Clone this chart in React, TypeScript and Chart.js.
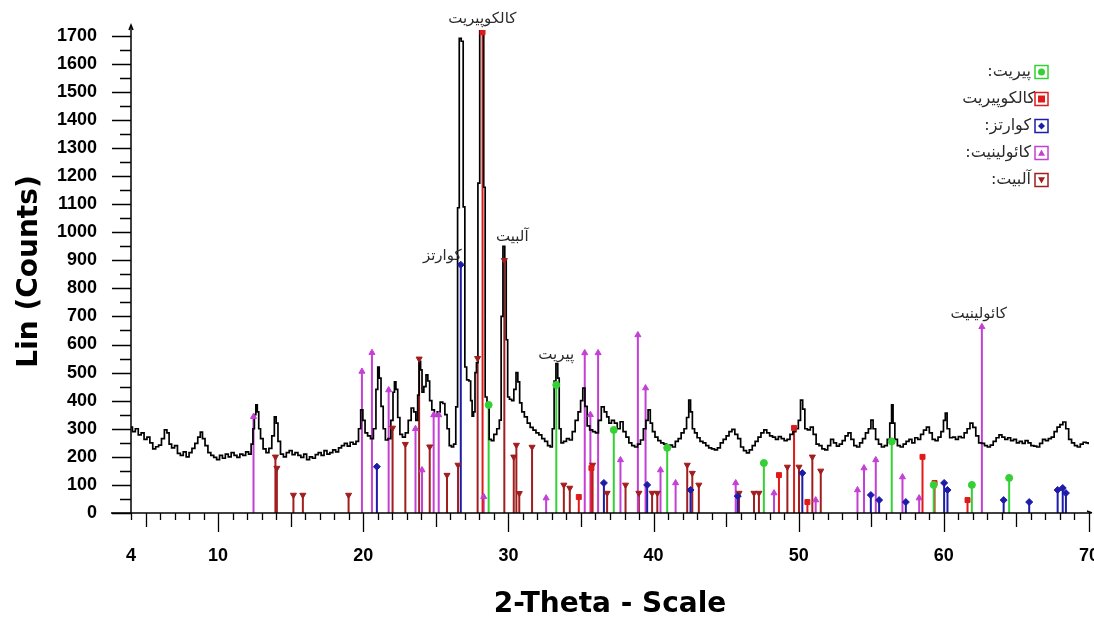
import React, { useEffect, useRef } from "react";
import { Chart, registerables } from "chart.js";

Chart.register(...registerables);

// ---------- data ----------
const xTickValues = [4, 10, 20, 30, 40, 50, 60, 70];
const yTickValues = [0, 100, 200, 300, 400, 500, 600, 700, 800, 900, 1000, 1100, 1200, 1300, 1400, 1500, 1600, 1700];

// measured diffraction pattern: [2-theta, counts]
const trace: [number, number][] = [
  [4.0, 306], [4.2, 290], [4.4, 300], [4.6, 278], [4.8, 285], [5.0, 262], [5.2, 270], [5.4, 250], [5.6, 228], [5.8, 236],
  [6.0, 242], [6.2, 265], [6.4, 296], [6.55, 285], [6.7, 245], [6.9, 232], [7.1, 240], [7.3, 212], [7.5, 205], [7.7, 218],
  [7.9, 200], [8.1, 215], [8.3, 230], [8.5, 248], [8.7, 270], [8.85, 288], [9.0, 265], [9.2, 240], [9.4, 215], [9.6, 205],
  [9.8, 198], [10.0, 190], [10.2, 205], [10.4, 195], [10.6, 210], [10.8, 200], [11.0, 215], [11.2, 205], [11.4, 198], [11.6, 210],
  [11.8, 205], [12.0, 218], [12.2, 210], [12.35, 245], [12.45, 300], [12.55, 350], [12.65, 385], [12.75, 360], [12.85, 300], [13.0, 265],
  [13.2, 228], [13.4, 215], [13.6, 230], [13.8, 275], [13.95, 342], [14.05, 320], [14.2, 255], [14.4, 210], [14.6, 200], [14.8, 215],
  [15.0, 222], [15.2, 208], [15.4, 215], [15.6, 205], [15.8, 198], [16.0, 210], [16.2, 190], [16.4, 200], [16.6, 195], [16.8, 208],
  [17.0, 215], [17.2, 205], [17.4, 222], [17.6, 210], [17.8, 215], [18.0, 225], [18.2, 218], [18.4, 232], [18.6, 240], [18.8, 248],
  [19.0, 238], [19.2, 252], [19.4, 245], [19.6, 255], [19.75, 300], [19.9, 367], [20.05, 330], [20.2, 285], [20.4, 275], [20.6, 265],
  [20.8, 300], [20.95, 440], [21.05, 520], [21.15, 480], [21.3, 380], [21.45, 300], [21.6, 260], [21.8, 265], [22.0, 330], [22.1, 430],
  [22.2, 467], [22.3, 440], [22.45, 340], [22.6, 280], [22.8, 270], [23.0, 285], [23.2, 330], [23.4, 374], [23.55, 360], [23.7, 330],
  [23.8, 420], [23.9, 540], [24.0, 510], [24.1, 430], [24.25, 450], [24.4, 492], [24.5, 470], [24.65, 400], [24.8, 367], [25.0, 345],
  [25.2, 360], [25.4, 395], [25.55, 390], [25.7, 350], [25.85, 300], [26.0, 240], [26.15, 235], [26.3, 245], [26.45, 378], [26.55, 1087],
  [26.68, 1690], [26.82, 1680], [26.95, 1090], [27.05, 520], [27.2, 474], [27.35, 470], [27.45, 400], [27.55, 345], [27.65, 360], [27.75, 500],
  [27.85, 535], [27.95, 1175], [28.1, 1718], [28.25, 1715], [28.35, 1160], [28.45, 413], [28.6, 392], [28.75, 262], [28.9, 258], [29.1, 280],
  [29.3, 300], [29.45, 331], [29.55, 700], [29.7, 950], [29.8, 900], [29.9, 617], [30.0, 413], [30.15, 405], [30.3, 400], [30.45, 440],
  [30.6, 500], [30.7, 467], [30.85, 392], [31.0, 360], [31.2, 342], [31.4, 320], [31.6, 305], [31.8, 295], [32.0, 285], [32.2, 278],
  [32.4, 265], [32.6, 255], [32.8, 240], [32.95, 235], [33.1, 300], [33.2, 470], [33.35, 532], [33.45, 480], [33.55, 300], [33.7, 250],
  [33.9, 255], [34.1, 265], [34.3, 260], [34.5, 290], [34.7, 330], [34.9, 360], [35.05, 400], [35.2, 445], [35.35, 380], [35.5, 310],
  [35.7, 296], [35.9, 290], [36.1, 285], [36.3, 330], [36.5, 378], [36.7, 360], [36.85, 342], [37.0, 320], [37.2, 330], [37.4, 320],
  [37.6, 300], [37.8, 325], [38.0, 290], [38.2, 270], [38.4, 250], [38.6, 240], [38.8, 235], [39.0, 245], [39.2, 260], [39.4, 300],
  [39.55, 330], [39.7, 367], [39.85, 320], [40.0, 290], [40.2, 270], [40.4, 258], [40.6, 250], [40.8, 245], [41.0, 238], [41.2, 242],
  [41.4, 235], [41.6, 255], [41.8, 265], [42.0, 285], [42.2, 300], [42.35, 340], [42.5, 402], [42.6, 360], [42.75, 300], [42.9, 285],
  [43.1, 268], [43.3, 255], [43.5, 250], [43.7, 240], [43.9, 232], [44.1, 228], [44.3, 225], [44.5, 232], [44.7, 250], [44.9, 262],
  [45.1, 275], [45.3, 290], [45.5, 298], [45.7, 280], [45.9, 265], [46.1, 235], [46.3, 222], [46.5, 214], [46.7, 225], [46.9, 240],
  [47.1, 255], [47.3, 270], [47.5, 285], [47.7, 296], [47.9, 285], [48.1, 275], [48.3, 270], [48.5, 262], [48.7, 272], [48.9, 265],
  [49.1, 258], [49.3, 262], [49.5, 280], [49.7, 290], [49.9, 300], [50.05, 330], [50.2, 402], [50.35, 370], [50.5, 300], [50.7, 296],
  [50.9, 306], [51.1, 280], [51.3, 245], [51.5, 240], [51.7, 228], [51.9, 225], [52.1, 240], [52.3, 262], [52.5, 250], [52.7, 238],
  [52.9, 245], [53.1, 258], [53.3, 275], [53.5, 285], [53.7, 262], [53.9, 240], [54.1, 235], [54.3, 250], [54.5, 265], [54.7, 285],
  [54.9, 300], [55.05, 331], [55.2, 300], [55.4, 262], [55.6, 245], [55.8, 235], [56.0, 240], [56.2, 262], [56.35, 320], [56.45, 385],
  [56.55, 320], [56.7, 262], [56.9, 240], [57.1, 235], [57.3, 245], [57.5, 255], [57.7, 262], [57.9, 250], [58.1, 268], [58.3, 262],
  [58.5, 280], [58.7, 295], [58.9, 306], [59.1, 285], [59.3, 262], [59.5, 258], [59.7, 270], [59.9, 290], [60.05, 330], [60.15, 356],
  [60.3, 300], [60.5, 268], [60.7, 270], [60.9, 262], [61.1, 272], [61.3, 268], [61.5, 285], [61.7, 300], [61.9, 320], [62.1, 305],
  [62.3, 275], [62.5, 250], [62.7, 248], [62.9, 240], [63.1, 235], [63.3, 242], [63.5, 255], [63.7, 268], [63.9, 278], [64.1, 270],
  [64.3, 262], [64.5, 268], [64.7, 258], [64.9, 262], [65.1, 250], [65.3, 255], [65.5, 248], [65.7, 258], [65.9, 250], [66.1, 240],
  [66.3, 238], [66.5, 235], [66.7, 248], [66.9, 262], [67.1, 258], [67.3, 265], [67.5, 270], [67.7, 290], [67.9, 306], [68.1, 315],
  [68.3, 324], [68.5, 300], [68.7, 262], [68.9, 250], [69.1, 240], [69.3, 235], [69.5, 245], [69.7, 252], [69.9, 250], [70.0, 248],
];

// reference stick patterns
const pyriteX = [28.64, 33.3, 37.26, 40.94, 47.6, 56.41, 59.3, 61.93, 64.5];
const pyriteY = [385, 456, 296, 232, 178, 255, 100, 100, 125];

const chalcoX = [28.22, 34.85, 35.72, 48.64, 49.68, 50.6, 58.53, 59.36, 61.63];
const chalcoY = [1712, 57, 160, 135, 303, 39, 200, 107, 46];

const quartzX = [20.94, 26.72, 36.58, 39.56, 42.55, 45.8, 50.25, 54.97, 55.54, 57.38, 60.02, 60.25, 64.12, 65.88, 67.84, 68.19, 68.41];
const quartzY = [165, 884, 107, 100, 82, 60, 142, 64, 46, 39, 107, 82, 46, 39, 82, 89, 71];

const kaolX = [12.44, 19.91, 20.6, 21.75, 23.6, 24.05, 24.85, 25.2, 28.3, 32.6, 35.26, 35.65, 36.18, 37.72, 38.92, 39.45, 40.48, 41.52, 45.66, 48.3, 51.17, 54.05, 54.5, 55.31, 57.15, 58.3, 62.62];
const kaolY = [343, 504, 571, 438, 300, 153, 349, 349, 58, 53, 570, 350, 570, 189, 634, 445, 153, 107, 107, 71, 46, 82, 160, 189, 128, 53, 663];

const albiteX = [13.95, 14.05, 15.19, 15.84, 18.99, 22.02, 22.9, 23.85, 24.58, 25.77, 26.53, 27.88, 29.72, 30.37, 30.55, 30.75, 31.63, 33.82, 34.23, 35.8, 36.8, 38.07, 38.99, 39.9, 40.26, 42.32, 42.67, 43.12, 45.89, 46.92, 47.26, 49.22, 50.02, 50.94, 51.52];
const albiteY = [200, 160, 64, 64, 64, 303, 245, 549, 236, 135, 171, 551, 900, 200, 242, 70, 235, 100, 89, 171, 71, 100, 71, 71, 71, 171, 142, 100, 71, 71, 71, 164, 164, 200, 150];

const legendNames = [":پیریت", "کالکوپیریت", ":کوارتز", ":کائولینیت", ":آلبیت"];

const peakLabelText = ["کالکوپیریت", "کوارتز", "آلبیت", "پیریت", "کائولینیت"];
const peakLabelX = [28.2, 26.78, 30.27, 33.3, 62.4];
const peakLabelY = [1759, 915, 983, 563, 709];
const peakLabelAlign: CanvasTextAlign[] = ["center", "right", "center", "center", "center"];

// ---------- styles ----------
const phaseColors = ["#35D035", "#E01A1A", "#1C1CA8", "#C440D4", "#A01E1E"];
const phaseStyles = ["circle", "rect", "rectRot", "triangle", "triangle"];
const phaseRotations = [0, 0, 0, 0, 180];

const phaseX = [pyriteX, chalcoX, quartzX, kaolX, albiteX];
const phaseY = [pyriteY, chalcoY, quartzY, kaolY, albiteY];

function drawMarker(ctx: CanvasRenderingContext2D, idx: number, x: number, y: number, r: number) {
  const c = phaseColors[idx];
  ctx.fillStyle = c;
  ctx.beginPath();
  if (idx === 0) {
    ctx.arc(x, y, r, 0, Math.PI * 2);
  } else if (idx === 1) {
    ctx.rect(x - r, y - r, 2 * r, 2 * r);
  } else if (idx === 2) {
    ctx.moveTo(x, y - r); ctx.lineTo(x + r, y); ctx.lineTo(x, y + r); ctx.lineTo(x - r, y); ctx.closePath();
  } else if (idx === 3) {
    ctx.moveTo(x, y - r); ctx.lineTo(x + r, y + r * 0.8); ctx.lineTo(x - r, y + r * 0.8); ctx.closePath();
  } else {
    ctx.moveTo(x, y + r); ctx.lineTo(x + r, y - r * 0.8); ctx.lineTo(x - r, y - r * 0.8); ctx.closePath();
  }
  ctx.fill();
}

const decorPlugin = {
  id: "decor",
  afterDraw(chart: any) {
    const ctx: CanvasRenderingContext2D = chart.ctx;
    const xs = chart.scales.x;
    const ys = chart.scales.y;
    const x0 = xs.getPixelForValue(4);
    const yb = ys.getPixelForValue(0);
    const area = chart.chartArea;
    ctx.save();
    ctx.strokeStyle = "#000";
    ctx.lineWidth = 1.5;
    ctx.beginPath();
    ctx.moveTo(x0, yb);
    ctx.lineTo(x0, area.top - 4);
    ctx.moveTo(x0 - 20, yb);
    ctx.lineTo(area.right + 2, yb);
    ctx.stroke();
    // small arrow heads
    ctx.beginPath();
    ctx.moveTo(x0 - 2, area.top);
    ctx.lineTo(x0, area.top - 5);
    ctx.lineTo(x0 + 2, area.top);
    ctx.moveTo(area.right - 2, yb - 2);
    ctx.lineTo(area.right + 3, yb);
    ctx.stroke();
    // y ticks
    ctx.lineWidth = 1.3;
    ctx.beginPath();
    for (let v = 0; v <= 1700; v += 50) {
      const y = Math.round(ys.getPixelForValue(v)) + 0.5;
      const len = v % 100 === 0 ? 19 : 11;
      ctx.moveTo(x0 - len, y);
      ctx.lineTo(x0, y);
    }
    // x ticks
    for (let v = 4; v <= 70; v += 1) {
      const x = Math.round(xs.getPixelForValue(v)) + 0.5;
      const len = v % 10 === 0 ? 19 : v % 5 === 0 ? 14 : 7;
      ctx.moveTo(x, yb);
      ctx.lineTo(x, yb + len);
    }
    ctx.stroke();

    // peak labels
    ctx.fillStyle = "#2a2a2a";
    ctx.font = '15px "DejaVu Sans"';
    ctx.textBaseline = "middle";
    for (let i = 0; i < peakLabelText.length; i++) {
      ctx.textAlign = peakLabelAlign[i];
      ctx.fillText(peakLabelText[i], xs.getPixelForValue(peakLabelX[i]), ys.getPixelForValue(peakLabelY[i]));
    }

    // legend
    ctx.font = '16px "DejaVu Sans"';
    for (let i = 0; i < legendNames.length; i++) {
      const cy = 72 + i * 27;
      const bx = 1035;
      ctx.fillStyle = "#fff";
      ctx.fillRect(bx, cy - 6.5, 13, 13);
      ctx.strokeStyle = phaseColors[i];
      ctx.lineWidth = 1.5;
      ctx.strokeRect(bx, cy - 6.5, 13, 13);
      drawMarker(ctx, i, bx + 6.5, cy, 3.5);
      ctx.fillStyle = "#2a2a2a";
      ctx.textAlign = "right";
      ctx.fillText(legendNames[i], i === 1 ? 1035 : 1031, cy);
    }
    ctx.restore();
  },
};

export default function App() {
  const canvasRef = useRef<HTMLCanvasElement | null>(null);

  useEffect(() => {
    if (!canvasRef.current) return;

    const stickSets = phaseX.map((xs, i) => ({
      type: "line" as const,
      data: xs.flatMap((x, j) => [
        { x, y: 0 },
        { x, y: phaseY[i][j] },
        { x, y: null },
      ]),
      borderColor: phaseColors[i],
      borderWidth: 2,
      pointRadius: 0,
      spanGaps: false,
      order: 3,
    }));

    const markerSets = phaseX.map((xs, i) => ({
      type: "line" as const,
      data: xs.map((x, j) => ({ x, y: phaseY[i][j] })),
      showLine: false,
      pointStyle: phaseStyles[i],
      pointRotation: phaseRotations[i],
      pointRadius: 3.5,
      pointBackgroundColor: phaseColors[i],
      pointBorderColor: phaseColors[i],
      pointBorderWidth: 1,
      order: 1,
    }));

    const traceSet = {
      type: "line" as const,
      data: trace.map(([x, y]) => ({ x, y })),
      borderColor: "#000",
      borderWidth: 1.7,
      pointRadius: 0,
      stepped: "middle" as const,
      order: 2,
    };

    const tickFont = { family: '"Liberation Sans", Arial, sans-serif', size: 18, weight: "bold" as const };
    const titleFont = { family: '"DejaVu Sans", sans-serif', size: 28, weight: "bold" as const, lineHeight: 1 };

    const chart = new Chart(canvasRef.current, {
      type: "line",
      data: { datasets: [...markerSets, traceSet, ...stickSets] as any },
      options: {
        animation: false,
        responsive: false,
        events: [],
        layout: { padding: { top: 30, right: 5, bottom: 0, left: 0 } },
        plugins: { legend: { display: false }, tooltip: { enabled: false } },
        scales: {
          x: {
            type: "linear",
            min: 4,
            max: 70,
            grid: { display: false, drawTicks: false },
            border: { display: false },
            afterBuildTicks: (scale: any) => {
              scale.ticks = xTickValues.map((v) => ({ value: v }));
            },
            afterFit: (scale: any) => {
              scale.height = 107;
              scale.paddingLeft = 0;
              scale.paddingRight = 0;
            },
            ticks: {
              font: tickFont,
              color: "#000",
              padding: 32,
              maxRotation: 0,
              autoSkip: false,
              callback: (v: any) => String(v),
            },
            title: {
              display: true,
              text: "2-Theta - Scale",
              font: titleFont,
              color: "#000",
              padding: { top: 0, bottom: 1 },
            },
          },
          y: {
            type: "linear",
            min: 0,
            max: 1720,
            grid: { display: false, drawTicks: false },
            border: { display: false },
            afterBuildTicks: (scale: any) => {
              scale.ticks = yTickValues.map((v) => ({ value: v }));
            },
            afterFit: (scale: any) => {
              scale.width = 131;
              scale.paddingTop = 0;
              scale.paddingBottom = 0;
            },
            ticks: {
              font: tickFont,
              color: "#000",
              padding: 34,
              autoSkip: false,
              callback: (v: any) => String(v),
            },
            title: {
              display: true,
              text: "Lin (Counts)",
              font: titleFont,
              color: "#000",
              padding: { top: 16, bottom: 0 },
            },
          },
        },
      },
      plugins: [decorPlugin],
    });

    return () => chart.destroy();
  }, []);

  return (
    <div style={{ position: "fixed", left: 0, top: 0, width: 1094, height: 620, overflow: "hidden", background: "#fff" }}>
      <canvas ref={canvasRef} width={1094} height={620} style={{ width: 1094, height: 620, display: "block" }} />
    </div>
  );
}
